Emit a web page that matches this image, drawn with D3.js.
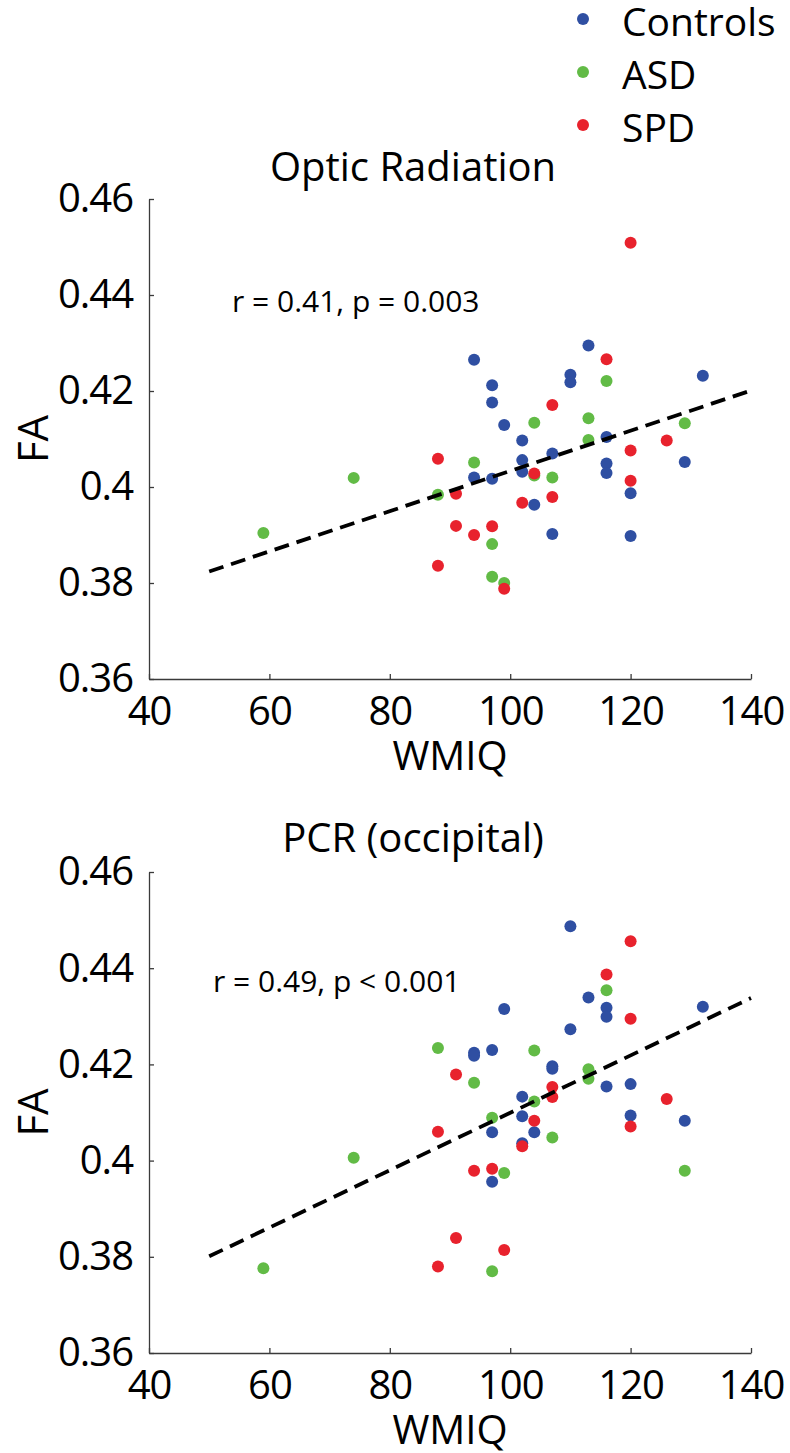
<!DOCTYPE html>
<html>
<head>
<meta charset="utf-8">
<script src="https://cdn.jsdelivr.net/npm/d3@7"></script>
<style>
  html, body { margin: 0; padding: 0; background: #fff; }
  svg { display: block; font-family: "Open Sans", "Noto Sans", sans-serif; }
</style>
</head>
<body>
<svg id="chart" width="790" height="1453"></svg>
<script>
// ---------------- data ----------------
const groups = ["Controls", "ASD", "SPD"];
const groupColors = ["#2f4fa2", "#62bb46", "#e8222d"];

const xTicks = [40, 60, 80, 100, 120, 140];
const yTicks = [0.36, 0.38, 0.40, 0.42, 0.44, 0.46];
const yTickLabels = ["0.36", "0.38", "0.4", "0.42", "0.44", "0.46"];

// Optic Radiation
const opticControlsWMIQ = [94,97,97,99,102,102,102,94,97,104,107,107,110,110,113,116,116,116,120,120,129,132];
const opticControlsFA   = [0.4265,0.4212,0.4176,0.4129,0.4097,0.4056,0.4032,0.4020,0.4017,0.3963,0.4070,0.3902,0.4234,0.4218,0.4295,0.4104,0.4049,0.4029,0.3987,0.3898,0.4052,0.4232];
const opticAsdWMIQ = [59,74,88,94,97,97,99,104,104,107,113,113,116,129];
const opticAsdFA   = [0.3904,0.4019,0.3984,0.4051,0.3881,0.3813,0.3800,0.4134,0.4024,0.4020,0.4143,0.4098,0.4221,0.4133];
const opticSpdWMIQ = [120,116,107,88,120,126,104,120,91,107,102,91,94,97,88,99];
const opticSpdFA   = [0.4509,0.4266,0.4171,0.4059,0.4076,0.4097,0.4028,0.4013,0.3986,0.3979,0.3967,0.3919,0.3900,0.3918,0.3836,0.3788];

// PCR (occipital)
const pcrControlsWMIQ = [110,99,113,116,116,110,132,94,94,97,107,107,116,120,102,102,120,129,97,104,97,102];
const pcrControlsFA   = [0.4487,0.4315,0.4339,0.4318,0.4299,0.4273,0.4320,0.4224,0.4218,0.4230,0.4196,0.4191,0.4154,0.4159,0.4133,0.4092,0.4094,0.4083,0.4059,0.4059,0.3956,0.4036];
const pcrAsdWMIQ = [88,104,94,116,113,113,104,97,107,74,99,129,59,97];
const pcrAsdFA   = [0.4234,0.4229,0.4162,0.4354,0.4190,0.4170,0.4123,0.4089,0.4048,0.4006,0.3974,0.3979,0.3776,0.3770];
const pcrSpdWMIQ = [120,116,120,91,107,107,126,104,120,88,102,94,97,91,99,88];
const pcrSpdFA   = [0.4456,0.4387,0.4295,0.4179,0.4153,0.4132,0.4128,0.4083,0.4071,0.4060,0.4030,0.3979,0.3983,0.3839,0.3814,0.3780];

// regression lines
const fitWMIQ = [50, 140];
const opticFitFA = [0.3824, 0.4201];
const pcrFitFA = [0.3801, 0.4338];

const panels = [
  { title: "Optic Radiation", stat: "r = 0.41, p = 0.003",
    xs: [opticControlsWMIQ, opticAsdWMIQ, opticSpdWMIQ],
    ys: [opticControlsFA, opticAsdFA, opticSpdFA], fit: opticFitFA,
    top: 199, bottom: 679, titleY: 181, statX: 232, statY: 312 },
  { title: "PCR (occipital)", stat: "r = 0.49, p < 0.001",
    xs: [pcrControlsWMIQ, pcrAsdWMIQ, pcrSpdWMIQ],
    ys: [pcrControlsFA, pcrAsdFA, pcrSpdFA], fit: pcrFitFA,
    top: 872, bottom: 1353, titleY: 852, statX: 213, statY: 992 }
];

// ---------------- drawing ----------------
const svg = d3.select("#chart");
const left = 149, right = 751;
const x = d3.scaleLinear().domain([40, 140]).range([left, right]);
const axisColor = "#3a3a3a";

panels.forEach(p => {
  const y = d3.scaleLinear().domain([0.36, 0.46]).range([p.bottom, p.top]);
  const g = svg.append("g");

  // x axis
  const xa = g.append("g").attr("transform", `translate(0,${p.bottom})`)
    .call(d3.axisBottom(x).tickValues(xTicks).tickSizeInner(-5).tickSizeOuter(0).tickPadding(18).tickFormat(d3.format("d")));
  // y axis
  const ya = g.append("g").attr("transform", `translate(${left},0)`)
    .call(d3.axisLeft(y).tickValues(yTicks).tickSizeInner(-5).tickSizeOuter(0).tickPadding(16)
      .tickFormat((d, i) => yTickLabels[i]));
  [xa, ya].forEach(a => {
    a.select(".domain").attr("stroke", axisColor).attr("stroke-width", 1.3);
    a.selectAll(".tick line").attr("stroke", axisColor).attr("stroke-width", 1.3);
    a.selectAll(".tick text").attr("fill", "#000").attr("font-size", 40)
      .attr("font-family", "'Open Sans', sans-serif").attr("letter-spacing", "-1px");
  });

  // points: Controls, ASD, SPD in order
  groups.forEach((grp, gi) => {
    const pts = p.xs[gi].map((v, i) => [v, p.ys[gi][i]]);
    g.append("g").selectAll("circle").data(pts).join("circle")
      .attr("cx", d => x(d[0])).attr("cy", d => y(d[1]))
      .attr("r", 6).attr("fill", groupColors[gi]);
  });

  // regression line
  const line = d3.line().x(d => x(d[0])).y(d => y(d[1]));
  g.append("path").datum(fitWMIQ.map((v, i) => [v, p.fit[i]]))
    .attr("d", line).attr("fill", "none").attr("stroke", "#000")
    .attr("stroke-width", 3.8).attr("stroke-dasharray", "15,8");

  // title
  g.append("text").attr("x", 413).attr("y", p.titleY).attr("text-anchor", "middle")
    .attr("font-size", 40).text(p.title);
  // stat
  g.append("text").attr("x", p.statX).attr("y", p.statY)
    .attr("font-size", 30).text(p.stat);
  // axis labels
  g.append("text").attr("x", (left + right) / 2).attr("y", p.bottom + 91)
    .attr("text-anchor", "middle").attr("font-size", 40).text("WMIQ");
  g.append("text").attr("transform", `translate(48,${(p.top + p.bottom) / 2}) rotate(-90)`)
    .attr("text-anchor", "middle").attr("font-size", 42).text("FA");
});

// legend
const legendY = [19, 72, 125];
groups.forEach((grp, i) => {
  svg.append("circle").attr("cx", 583).attr("cy", legendY[i]).attr("r", 6).attr("fill", groupColors[i]);
  svg.append("text").attr("x", 622).attr("y", legendY[i] + 17).attr("font-size", 39).text(grp);
});
</script>
</body>
</html>
